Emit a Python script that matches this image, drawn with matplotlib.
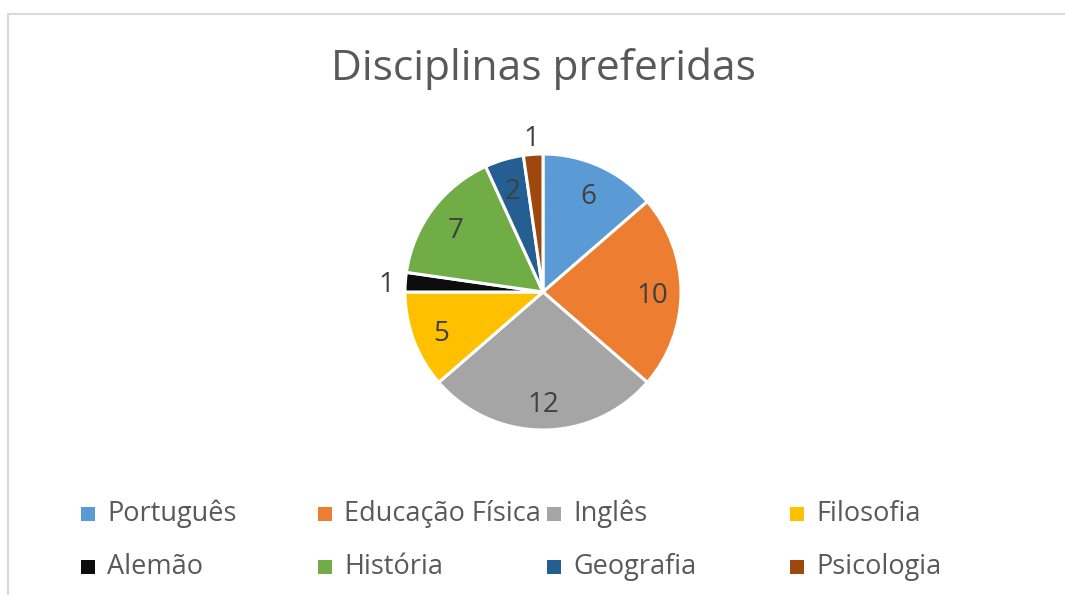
import numpy as np
import matplotlib.pyplot as plt
from matplotlib.patches import Rectangle

plt.rcParams['font.family'] = ['Open Sans', 'DejaVu Sans']

categorias = ['Português', 'Educação Física', 'Inglês', 'Filosofia',
              'Alemão', 'História', 'Geografia', 'Psicologia']
valores = [6, 10, 12, 5, 1, 7, 2, 1]
cores = ['#5B9BD5', '#ED7D31', '#A5A5A5', '#FFC000',
         '#0D0D0D', '#70AD47', '#255E91', '#9E480E']

W, H = 1065, 595
fig = plt.figure(figsize=(W / 100, H / 100), dpi=100)

# chart area border (top and left edges visible)
fig.add_artist(plt.Line2D([8 / W, 8 / W], [0, 1 - 14 / H], color='#D9D9D9', lw=1.5))
fig.add_artist(plt.Line2D([8 / W, 1], [1 - 14 / H, 1 - 14 / H], color='#D9D9D9', lw=1.5))

fig.text(543 / W, 1 - 69 / H, 'Disciplinas preferidas', ha='center', va='center',
         fontsize=30.6, color='#595959')

cx, cy, r = 543, 292, 138
ax = fig.add_axes([(cx - r) / W, (H - cy - r) / H, 2 * r / W, 2 * r / H])
wedges, _ = ax.pie(valores, colors=cores, startangle=90, counterclock=False,
                   wedgeprops=dict(edgecolor='white', linewidth=2.2))
ax.set_xlim(-1, 1)
ax.set_ylim(-1, 1)
ax.axis('off')

# data labels: inside for bigger slices, outside for the single-vote ones
for w, v in zip(wedges, valores):
    ang = np.deg2rad((w.theta1 + w.theta2) / 2)
    d = 0.79 if v > 1 else 1.14
    ax.text(d * np.cos(ang), d * np.sin(ang) - 0.03, str(v), ha='center', va='center',
            fontsize=20, color='#404040')

# legend, 4 columns x 2 rows
col_x = [88, 325, 554, 797]
row_y = [514, 567]
for i, (nome, cor) in enumerate(zip(categorias, cores)):
    x = col_x[i % 4]
    y = row_y[i // 4]
    fig.add_artist(Rectangle(((x - 7) / W, 1 - (y + 7) / H), 14 / W, 14 / H,
                             facecolor=cor, edgecolor='none', transform=fig.transFigure))
    fig.text((x + 19) / W, 1 - y / H, nome, ha='left', va='center',
             fontsize=19.5, color='#595959')

fig.savefig('out.png', dpi=100)
